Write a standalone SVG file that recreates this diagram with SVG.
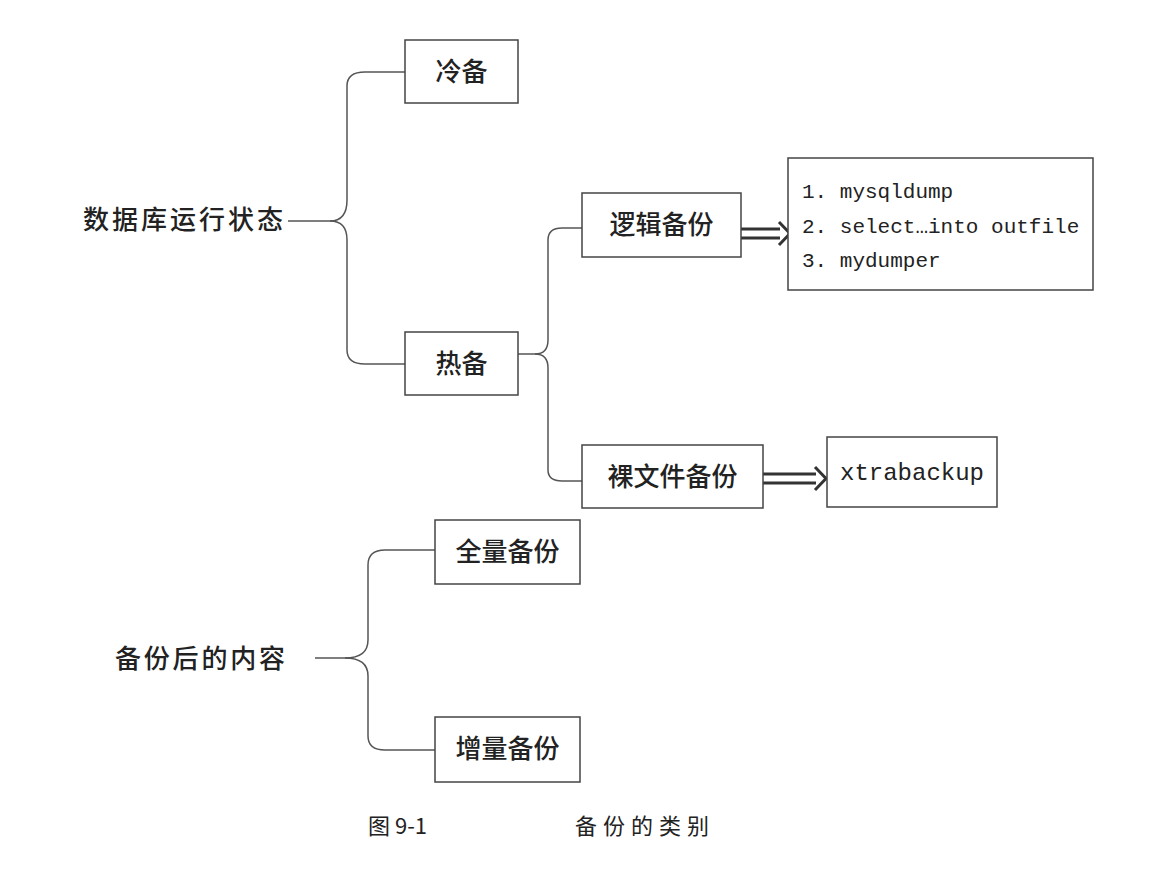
<svg xmlns="http://www.w3.org/2000/svg" width="1157" height="871" viewBox="0 0 1157 871">
<style>
.b{fill:#fff;stroke:#444;stroke-width:1.5}
.t{font-family:"Noto Sans CJK SC","Noto Sans",sans-serif;font-size:26px;fill:#222;font-weight:500}
.m{font-family:"Liberation Mono","Noto Sans CJK SC",monospace;font-size:21px;fill:#222}
.c{fill:none;stroke:#555;stroke-width:1.5}
.cap{font-family:"Noto Sans CJK SC","Noto Sans",sans-serif;font-size:22px;fill:#222}
</style>
<rect width="1157" height="871" fill="#fff"/>
<g id="connectors">
<path class="c" d="M288,221 H330 Q347,221 347,200 V86 Q347,72 365,72 H405"/>
<path class="c" d="M330,221 Q347,221 347,240 V350 Q347,364 365,364 H405"/>
<path class="c" d="M518,354 H535 Q548,354 548,340 V240 Q548,228 562,228 H582"/>
<path class="c" d="M535,354 Q548,354 548,368 V470 Q548,481 562,481 H582"/>
<path class="c" d="M315,658 H345 Q368,658 368,640 V565 Q368,550 385,550 H435"/>
<path class="c" d="M345,658 Q368,658 368,676 V736 Q368,750 385,750 H435"/>
<g fill="none" stroke="#333">
<path d="M740,229 H780 M740,238 H780" stroke-width="3"/>
<path d="M779,222 L790,233.5 L779,245" stroke-width="3"/>
<path d="M763,474 H816 M763,483 H816" stroke-width="3"/>
<path d="M815,467 L826,478.5 L815,490" stroke-width="3"/>
</g>
</g>
<g id="root1"><text class="t" x="83" y="229" textLength="200">数据库运行状态</text></g>
<g id="root2"><text class="t" x="115" y="668" textLength="170">备份后的内容</text></g>
<g id="cold"><rect class="b" x="405" y="40" width="113" height="63"/><text class="t" x="461.5" y="81" text-anchor="middle">冷备</text></g>
<g id="hot"><rect class="b" x="405" y="332" width="113" height="63"/><text class="t" x="461.5" y="373" text-anchor="middle">热备</text></g>
<g id="logical"><rect class="b" x="582" y="193" width="159" height="64"/><text class="t" x="661.5" y="234" text-anchor="middle">逻辑备份</text></g>
<g id="tools"><rect class="b" x="788" y="158" width="305" height="132"/>
<text class="m" x="802" y="198">1. mysqldump</text>
<text class="m" x="802" y="233">2. select…into outfile</text>
<text class="m" x="802" y="267">3. mydumper</text></g>
<g id="raw"><rect class="b" x="582" y="445" width="181" height="63"/><text class="t" x="672.5" y="486" text-anchor="middle">裸文件备份</text></g>
<g id="xtra"><rect class="b" x="827" y="437" width="170" height="70"/><text class="m" x="912" y="480" text-anchor="middle" style="font-size:24px">xtrabackup</text></g>
<g id="full"><rect class="b" x="435" y="520" width="145" height="64"/><text class="t" x="507.5" y="561" text-anchor="middle">全量备份</text></g>
<g id="incr"><rect class="b" x="435" y="717" width="145" height="65"/><text class="t" x="507.5" y="758" text-anchor="middle">增量备份</text></g>
<text class="cap" x="368" y="834">图 9-1</text>
<text class="cap" x="575" y="834" letter-spacing="6">备份的类别</text>
</svg>
